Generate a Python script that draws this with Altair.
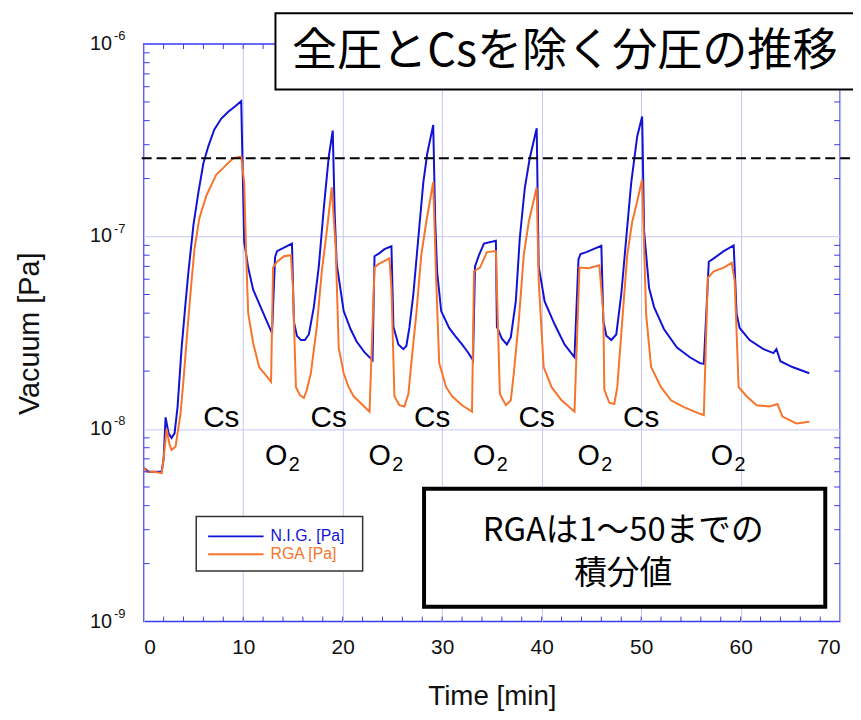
import altair as alt
import pandas as pd

# ---------------- data ----------------
nig_time = [0.0, 0.5, 1.0, 1.8, 2.0, 2.2, 2.5, 2.8, 3.1, 3.4, 3.8, 4.2, 4.5, 5.0, 5.5, 6.0, 6.5, 7.1, 7.8, 8.5,
            9.2, 9.8, 10.1, 10.5, 11.0, 11.8, 12.4, 12.9, 13.2, 13.4, 14.0, 14.9, 15.1, 15.4, 15.8, 16.2,
            16.6, 17.1, 17.6, 18.1, 18.6, 19.0, 19.2, 19.4, 20.1, 20.8, 21.4, 22.2, 23.0, 23.2, 23.7, 24.2,
            24.9, 25.1, 25.6, 26.1, 26.4, 26.7, 27.1, 27.6, 28.1, 28.5, 29.1, 29.3, 29.5, 29.9, 30.7, 31.3,
            32.0, 32.6, 33.1, 33.3, 33.7, 34.2, 35.4, 35.5, 36.0, 36.5, 36.9, 37.4, 37.8, 38.3, 38.8, 39.5,
            39.7, 40.3, 41.3, 42.3, 43.3, 43.7, 43.9, 44.5, 45.2, 46.0, 46.2, 46.5, 47.0, 47.5, 48.0, 48.5,
            49.0, 49.6, 50.1, 50.3, 50.8, 51.3, 52.3, 53.6, 54.9, 55.9, 56.3, 56.8, 57.3, 58.3, 59.3, 59.6,
            59.9, 60.9, 62.3, 63.3, 63.6, 64.0, 65.2, 66.9]
nig_vac = [6.3e-9, 6.0e-9, 6.0e-9, 6.0e-9, 7.0e-9, 1.15e-8, 9.5e-9, 9.0e-9, 9.5e-9, 1.3e-8, 2.6e-8, 4.5e-8,
           6.6e-8, 1.15e-7, 1.7e-7, 2.4e-7, 2.95e-7, 3.6e-7, 4.1e-7, 4.45e-7, 4.75e-7, 5.05e-7, 9.4e-8,
           6.9e-8, 5.3e-8, 4.25e-8, 3.6e-8, 3.15e-8, 7.8e-8, 8.4e-8, 8.7e-8, 9.2e-8, 3.6e-8, 3.05e-8,
           2.9e-8, 2.9e-8, 3.1e-8, 4.3e-8, 7.0e-8, 1.4e-7, 2.6e-7, 3.55e-7, 1.3e-7, 7.2e-8, 4.1e-8,
           3.3e-8, 2.85e-8, 2.5e-8, 2.28e-8, 7.9e-8, 8.2e-8, 8.6e-8, 8.9e-8, 3.4e-8, 2.75e-8, 2.6e-8,
           2.7e-8, 3.35e-8, 5.0e-8, 9.8e-8, 1.9e-7, 2.7e-7, 3.8e-7, 1.2e-7, 6.5e-8, 4.1e-8, 3.35e-8,
           3.05e-8, 2.75e-8, 2.5e-8, 2.28e-8, 7.0e-8, 8.0e-8, 9.2e-8, 9.5e-8, 3.4e-8, 2.95e-8, 2.75e-8,
           3.0e-8, 4.6e-8, 9.8e-8, 1.78e-7, 2.55e-7, 3.65e-7, 7.0e-8, 4.6e-8, 3.5e-8, 2.75e-8, 2.36e-8,
           7.6e-8, 8.1e-8, 8.3e-8, 8.6e-8, 8.95e-8, 3.65e-8, 3.05e-8, 2.9e-8, 3.1e-8, 5.0e-8, 9.8e-8,
           1.9e-7, 3.3e-7, 4.2e-7, 1.06e-7, 5.4e-8, 4.3e-8, 3.3e-8, 2.65e-8, 2.36e-8, 2.2e-8, 2.18e-8,
           7.4e-8, 7.7e-8, 8.4e-8, 9.0e-8, 3.95e-8, 3.35e-8, 2.9e-8, 2.6e-8, 2.48e-8, 2.6e-8, 2.25e-8,
           2.1e-8, 1.95e-8]

rga_time = [0.0, 0.3, 1.0, 1.8, 2.0, 2.3, 2.6, 2.8, 3.2, 3.7, 4.0, 4.4, 4.8, 5.1, 5.6, 6.3, 7.3, 8.1, 8.8,
            9.1, 9.8, 10.1, 10.3, 10.5, 11.0, 11.6, 12.1, 12.8, 13.0, 13.4, 14.1, 14.8, 15.0, 15.3, 15.7,
            16.1, 16.4, 16.8, 17.4, 17.9, 18.4, 18.9, 19.3, 19.6, 20.1, 20.6, 21.1, 21.9, 22.7, 23.2, 23.6,
            24.7, 24.9, 25.2, 25.7, 26.2, 26.6, 26.9, 27.4, 27.9, 28.4, 29.1, 29.4, 29.7, 30.4, 31.0, 32.0,
            33.0, 33.2, 33.8, 34.5, 35.4, 35.5, 35.8, 36.4, 36.9, 37.2, 37.7, 38.2, 38.7, 39.5, 39.7, 40.2,
            41.0, 42.0, 43.3, 43.8, 44.7, 45.8, 46.2, 46.3, 46.8, 47.3, 47.6, 48.1, 48.6, 49.1, 49.6, 50.1,
            50.5, 51.0, 52.0, 53.0, 54.3, 55.9, 56.3, 56.7, 57.3, 58.3, 59.1, 59.4, 59.8, 60.6, 61.6, 62.9,
            63.7, 64.2, 65.6, 66.9]
rga_vac = [6.3e-9, 6.0e-9, 6.0e-9, 5.9e-9, 7.0e-9, 1.0e-8, 8.3e-9, 7.8e-9, 8.1e-9, 1.2e-8, 1.8e-8, 3.3e-8,
           5.8e-8, 8.6e-8, 1.25e-7, 1.63e-7, 2.1e-7, 2.3e-7, 2.5e-7, 2.56e-7, 2.6e-7, 1.9e-7, 8.0e-8,
           4.0e-8, 2.8e-8, 2.1e-8, 1.95e-8, 1.76e-8, 6.9e-8, 7.4e-8, 7.9e-8, 8.0e-8, 5.4e-8, 1.65e-8,
           1.5e-8, 1.45e-8, 1.6e-8, 1.95e-8, 3.4e-8, 6.6e-8, 1.06e-7, 1.8e-7, 8.7e-8, 2.65e-8, 1.95e-8,
           1.65e-8, 1.48e-8, 1.35e-8, 1.23e-8, 6.9e-8, 7.2e-8, 7.7e-8, 5.4e-8, 1.48e-8, 1.33e-8, 1.31e-8,
           1.52e-8, 2.2e-8, 3.95e-8, 8.0e-8, 1.19e-7, 1.92e-7, 5.9e-8, 2.2e-8, 1.65e-8, 1.48e-8, 1.33e-8,
           1.23e-8, 6.6e-8, 6.9e-8, 8.3e-8, 8.4e-8, 5.4e-8, 1.52e-8, 1.33e-8, 1.41e-8, 1.95e-8, 3.65e-8,
           8.0e-8, 1.19e-7, 1.8e-7, 5.9e-8, 2.1e-8, 1.65e-8, 1.41e-8, 1.23e-8, 6.9e-8, 6.85e-8, 7.1e-8,
           3.95e-8, 1.6e-8, 1.37e-8, 1.35e-8, 1.65e-8, 3.65e-8, 8.0e-8, 1.19e-7, 1.52e-7, 1.98e-7,
           3.95e-8, 2.1e-8, 1.65e-8, 1.41e-8, 1.3e-8, 1.2e-8, 1.18e-8, 6.1e-8, 6.6e-8, 6.9e-8, 7.3e-8,
           5.9e-8, 1.65e-8, 1.48e-8, 1.33e-8, 1.31e-8, 1.35e-8, 1.16e-8, 1.07e-8, 1.09e-8]

series_names = ["N.I.G. [Pa]", "RGA [Pa]"]
series_colors = ["#1212d6", "#f7742a"]

threshold = 2.55e-7

cs_label = "Cs"
cs_time = [7.8, 18.6, 29.0, 39.5, 50.0]
cs_vac = 1.02e-8
o2_time = [12.2, 22.6, 33.1, 43.6, 57.0]
o2_vac = 6.5e-9

x_label_values = [0, 10, 20, 30, 40, 50, 60, 70]
x_minor_ticks = [v for v in range(2, 70, 2)]
y_decades = [1e-9, 1e-8, 1e-7, 1e-6]
y_exponents = ["-9", "-8", "-7", "-6"]
y_minor_ticks = [k * 10.0 ** e for e in (-9, -8, -7) for k in range(2, 10)]

title_text = "全圧とCsを除く分圧の推移"
note_lines = ["RGAは1～50までの", "積分値"]
x_title = "Time [min]"
y_title = "Vacuum [Pa]"

# ---------------- layout ----------------
W, H = 703, 583
FRAME = "#3a3af0"
GRID = "#c6c6f4"
SANS = "Liberation Sans"
CJK = "Noto Sans CJK JP"

df = pd.concat([
    pd.DataFrame({"t": nig_time, "v": nig_vac, "s": series_names[0]}),
    pd.DataFrame({"t": rga_time, "v": rga_vac, "s": series_names[1]}),
])

xs = alt.Scale(domain=[0, 70], nice=False, zero=False)
ys = alt.Scale(type="log", domain=[1e-9, 1e-6], nice=False)
cs = alt.Scale(domain=series_names, range=series_colors)

one = pd.DataFrame({"a": [0]})

lines = alt.Chart(df).mark_line(strokeWidth=2).encode(
    x=alt.X("t:Q", scale=xs, axis=alt.Axis(values=x_label_values, grid=True, gridColor=GRID, gridWidth=1,
                                          ticks=False, domain=False, labelFontSize=21, labelFont=SANS,
                                          labelColor="#111", labelPadding=15, title=x_title,
                                          titleFont=SANS, titleFontSize=28, titleFontWeight="normal",
                                          titleColor="#111", titleBaseline="alphabetic", titleY=84)),
    y=alt.Y("v:Q", scale=ys, axis=alt.Axis(values=[1e-8, 1e-7], grid=True, gridColor=GRID, gridWidth=1,
                                          ticks=False, domain=False, labels=False, title=y_title,
                                          titleFont=SANS, titleFontSize=29, titleFontWeight="normal",
                                          titleColor="#111", titleX=-115, titleY=292, titleAngle=-90,
                                          titleAlign="center", titleBaseline="middle")),
    color=alt.Color("s:N", scale=cs, legend=None),
    detail="s:N",
)

xt = pd.DataFrame({"t": x_minor_ticks})
xt_bottom = alt.Chart(xt).mark_rule(color=FRAME, strokeWidth=1).encode(
    x=alt.X("t:Q", scale=xs), y=alt.value(H), y2=alt.value(H - 5))
xt_top = alt.Chart(xt).mark_rule(color=FRAME, strokeWidth=1).encode(
    x=alt.X("t:Q", scale=xs), y=alt.value(0), y2=alt.value(5))

yt = pd.DataFrame({"v": y_minor_ticks})
yt_left = alt.Chart(yt).mark_rule(color=FRAME, strokeWidth=1).encode(
    y=alt.Y("v:Q", scale=ys), x=alt.value(0), x2=alt.value(6))
yt_right = alt.Chart(yt).mark_rule(color=FRAME, strokeWidth=1).encode(
    y=alt.Y("v:Q", scale=ys), x=alt.value(W - 6), x2=alt.value(W))

ylab = pd.DataFrame({"v": y_decades, "e": y_exponents, "b": ["10"] * 4})
ylab_base = alt.Chart(ylab).mark_text(font=SANS, fontSize=20, align="right", baseline="middle",
                                      color="#111").encode(
    y=alt.Y("v:Q", scale=ys), x=alt.value(-32), text="b:N")
ylab_exp = alt.Chart(ylab).mark_text(font=SANS, fontSize=13, align="left", baseline="middle",
                                     color="#111", dy=-8).encode(
    y=alt.Y("v:Q", scale=ys), x=alt.value(-30), text="e:N")

thr = alt.Chart(pd.DataFrame({"yv": [threshold]})).mark_rule(
    color="black", strokeWidth=2, strokeDash=[10, 5]).encode(
    y=alt.Y("yv:Q", scale=ys), x=alt.value(-2), x2=alt.value(740))

cs_df = pd.DataFrame({"t": cs_time, "v": [cs_vac] * len(cs_time), "l": [cs_label] * len(cs_time)})
cs_text = alt.Chart(cs_df).mark_text(font=SANS, fontSize=30, align="center", baseline="alphabetic",
                                     color="black").encode(
    x=alt.X("t:Q", scale=xs), y=alt.Y("v:Q", scale=ys), text="l:N")

o2_df = pd.DataFrame({"t": o2_time, "v": [o2_vac] * len(o2_time), "o": ["O"] * len(o2_time),
                      "n": ["2"] * len(o2_time)})
o_text = alt.Chart(o2_df).mark_text(font=SANS, fontSize=29, align="left", baseline="alphabetic",
                                    color="black").encode(
    x=alt.X("t:Q", scale=xs), y=alt.Y("v:Q", scale=ys), text="o:N")
o_sub = alt.Chart(o2_df).mark_text(font=SANS, fontSize=20, align="left", baseline="alphabetic",
                                   color="black", dx=24, dy=6).encode(
    x=alt.X("t:Q", scale=xs), y=alt.Y("v:Q", scale=ys), text="n:N")

# title box
tbox = alt.Chart(one).mark_rect(fill="white", stroke="black", strokeWidth=2).encode(
    x=alt.value(133), x2=alt.value(760), y=alt.value(-31), y2=alt.value(46))
ttext = alt.Chart(pd.DataFrame({"txt": [title_text]})).mark_text(
    font=CJK, fontSize=45.5, align="center", baseline="middle", color="black").encode(
    x=alt.value(425), y=alt.value(8), text="txt:N")

# note box
nbox = alt.Chart(one).mark_rect(fill="white", stroke="black", strokeWidth=4).encode(
    x=alt.value(283), x2=alt.value(688), y=alt.value(449), y2=alt.value(568))
ntext = alt.Chart(pd.DataFrame({"txt": note_lines, "yy": [492, 535]})).mark_text(
    font=CJK, fontSize=33, align="center", baseline="middle", color="black").encode(
    x=alt.value(484), y=alt.Y("yy:Q", scale=None), text="txt:N")

# legend
lbox = alt.Chart(one).mark_rect(fill="white", stroke="#333", strokeWidth=1.5).encode(
    x=alt.value(53), x2=alt.value(221), y=alt.value(477), y2=alt.value(532))
leg_df = pd.DataFrame({"s": series_names, "yy": [497, 515]})
leg_lines = alt.Chart(leg_df).mark_rule(strokeWidth=2).encode(
    y=alt.Y("yy:Q", scale=None), x=alt.value(65), x2=alt.value(121),
    color=alt.Color("s:N", scale=cs, legend=None))
leg_text = alt.Chart(leg_df).mark_text(font=SANS, fontSize=16, align="left", baseline="middle").encode(
    y=alt.Y("yy:Q", scale=None), x=alt.value(128), text="s:N",
    color=alt.Color("s:N", scale=cs, legend=None))

chart = alt.layer(
    lines, xt_bottom, xt_top, yt_left, yt_right, ylab_base, ylab_exp, thr,
    cs_text, o_text, o_sub, tbox, ttext, nbox, ntext, lbox, leg_lines, leg_text
).properties(
    width=W, height=H,
    autosize=alt.AutoSizeParams(type="none"),
    padding={"left": 137, "top": 33, "right": 13, "bottom": 96},
    background="white",
).configure_view(stroke=FRAME, strokeWidth=1.5)

chart.save("out.html", embed_options={"renderer": "svg", "actions": False})
